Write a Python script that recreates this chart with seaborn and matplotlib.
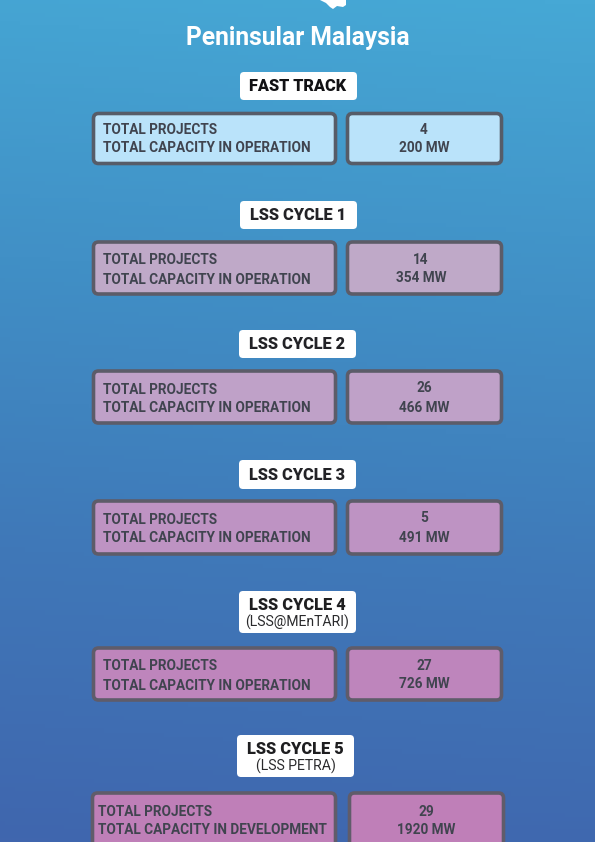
import numpy as np
import matplotlib
matplotlib.use("Agg")
import matplotlib.pyplot as plt
from matplotlib.patches import FancyBboxPatch, Polygon
from matplotlib.colors import LinearSegmentedColormap
import seaborn as sns

# ---- data ----
title = "Peninsular Malaysia"
programmes = ["FAST TRACK", "LSS CYCLE 1", "LSS CYCLE 2", "LSS CYCLE 3", "LSS CYCLE 4", "LSS CYCLE 5"]
subtitles = [None, None, None, None, "(LSS@MEnTARI)", "(LSS PETRA)"]
total_projects = [4, 14, 26, 5, 27, 29]
capacity_mw = [200, 354, 466, 491, 726, 1920]
capacity_status = ["OPERATION"] * 5 + ["DEVELOPMENT"]

# ---- styles / layout (pixels) ----
fills = ["#BAE3FA", "#BFA9C8", "#BFA1C8", "#BE93C3", "#BE85BC", "#BF7FB8"]
edges = ["#565C68", "#5C5C68", "#5C5C69", "#5D5C69", "#5F5C6A", "#605C6A"]
pill_x = [(240, 357), (240, 357), (239, 356), (239, 356), (239, 356), (237, 354)]
pill_y = [(72, 100), (201, 229), (330, 358), (460, 489), (591, 633), (735, 777)]
left_x = [(93.5, 335.5), (93.5, 335.5), (93.5, 335.5), (93.5, 335.5), (93.5, 335.5), (92.5, 335.5)]
right_x = [(347.5, 501.5), (347.5, 501.5), (347.5, 501.5), (347.5, 501.5), (347.5, 501.5), (349.5, 503.5)]
box_y = [(113.5, 163.5), (242, 294), (371, 423), (501, 554), (648, 700), (793, 851)]
line1_y = [129.5, 260.5, 389.5, 519.5, 666.5, 811.5]
line2_y = [148, 279.5, 408.5, 538.5, 685.5, 829.5]
val1_y = [129.5, 260.5, 388.5, 518.5, 665.5, 811.5]
val2_y = [148, 278.5, 407.5, 537.5, 684.5, 830]
left_text_x = [103, 103, 103, 103, 103, 98]
val_x = [424, 421, 424, 424, 424, 426]

sns.set_theme(style="white")
plt.rcParams["font.family"] = ["Roboto", "DejaVu Sans"]

fig = plt.figure(figsize=(5.95, 8.42), dpi=100)
ax = fig.add_axes([0, 0, 1, 1])
ax.set_axis_off()

# background gradient
cmap = LinearSegmentedColormap.from_list("bg", sns.blend_palette(["#46A8D5", "#4190C6", "#3F78B8", "#4066AE"], 16))
yy, xx = np.mgrid[0:1:200j, 0:1:120j]
ax.imshow(yy - 0.05 * (xx - 0.5), cmap=cmap, extent=(0, 595, 842, 0), aspect="auto", zorder=0)
ax.set_xlim(0, 595)
ax.set_ylim(842, 0)

PX = 72 / 100
def T(x, y, s, size, color, weight="bold", ha="left"):
    ax.text(x, y, s, fontsize=size * PX, color=color, fontweight=weight, ha=ha, va="center", zorder=5)

def box(xr, yr, fc, ec=None, lw=0, r=4):
    ax.add_patch(FancyBboxPatch((xr[0] + r, yr[0] + r), xr[1] - xr[0] - 2 * r, yr[1] - yr[0] - 2 * r,
                                boxstyle=f"round,pad={r},rounding_size={r}", fc=fc,
                                ec=ec if ec else "none", lw=lw, zorder=3, mutation_aspect=1))

# small map fragment at the top
ax.add_patch(Polygon([(320, 0), (346, 0), (346, 5), (343, 7), (337, 6), (333, 9), (330, 7), (326, 3)],
                     fc="white", ec="none", zorder=2))

T(297.5, 37.5, title, 24.6, "white", "bold", "center")

for i, name in enumerate(programmes):
    box(pill_x[i], pill_y[i], "white", r=4)
    cx = sum(pill_x[i]) / 2
    if subtitles[i]:
        T(cx, pill_y[i][0] + 13.5, name, 16.4, "#1E1E20", "black", "center")
        T(cx, pill_y[i][0] + 31, subtitles[i], 14, "#2A2A2C", "normal", "center")
    else:
        T(cx - 0.5, sum(pill_y[i]) / 2, name, 16.2, "#111114" if i == 0 else "#222226", "black", "center")
    box(left_x[i], box_y[i], fills[i], edges[i], lw=3.6 * PX, r=5)
    box(right_x[i], box_y[i], fills[i], edges[i], lw=3.6 * PX, r=5)
    T(left_text_x[i], line1_y[i], "TOTAL PROJECTS", 13.6, "#40444F", "bold")
    T(left_text_x[i], line2_y[i], f"TOTAL CAPACITY IN {capacity_status[i]}", 13.6, "#40444F", "bold")
    T(val_x[i], val1_y[i], str(total_projects[i]), 13.6, "#40444F", "bold", "center")
    T(val_x[i], val2_y[i], f"{capacity_mw[i]} MW", 13.6, "#40444F", "bold", "center")

fig.savefig("out.png", dpi=100)
